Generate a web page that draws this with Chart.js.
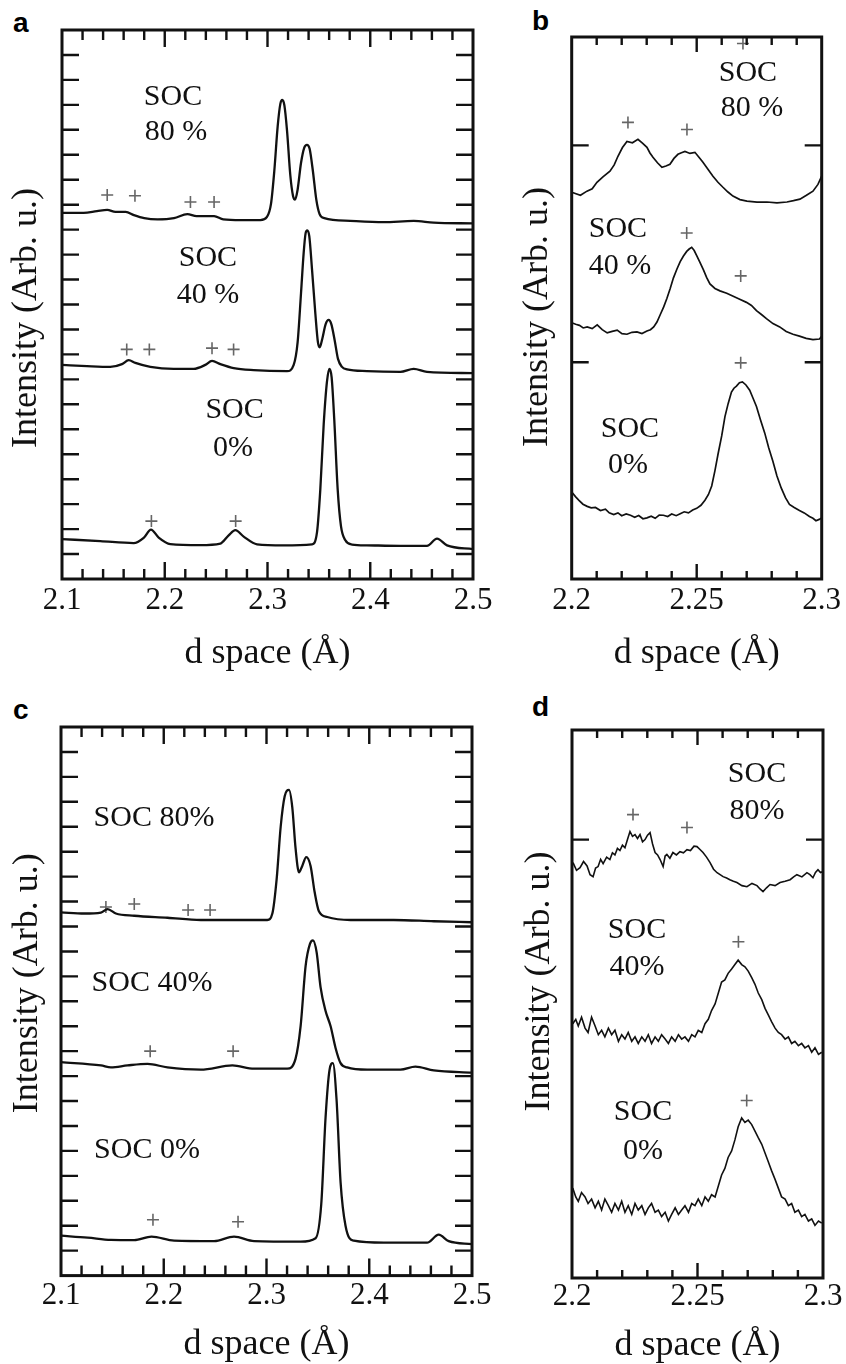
<!DOCTYPE html>
<html>
<head>
<meta charset="utf-8">
<script src="https://cdn.jsdelivr.net/npm/chart.js@4.4.1/dist/chart.umd.min.js"></script>
<style>
html, body { margin: 0; padding: 0; background: #fff; width: 846px; height: 1364px; overflow: hidden; }
.panel { position: absolute; }
.tag { position: absolute; font: bold 28px "Liberation Sans", Arial, sans-serif; line-height: 28px; color: #000; }
</style>
</head>
<body>
<div class="tag" style="left:13px;top:9px">a</div>
<div class="tag" style="left:532px;top:7px">b</div>
<div class="tag" style="left:13px;top:696px">c</div>
<div class="tag" style="left:532px;top:693px">d</div>

<canvas id="chartA" class="panel" width="500" height="680" style="left:0;top:0"></canvas>
<canvas id="chartB" class="panel" width="346" height="680" style="left:500px;top:0"></canvas>
<canvas id="chartC" class="panel" width="500" height="690" style="left:0;top:680px"></canvas>
<canvas id="chartD" class="panel" width="346" height="690" style="left:500px;top:680px"></canvas>

<script>
// ---- panel a : [d space, intensity] ----
const aSoc80 = [[2.1,14.67],[2.121,14.67],[2.134,14.74],[2.144,14.79],[2.152,14.71],[2.162,14.71],[2.17,14.58],[2.18,14.46],[2.193,14.41],[2.209,14.46],[2.222,14.62],[2.231,14.54],[2.248,14.54],[2.257,14.41],[2.274,14.38],[2.293,14.38],[2.2995,14.51],[2.3034,15.03],[2.3066,16.34],[2.3099,18.14],[2.3125,19.04],[2.3144,19.2],[2.3164,18.99],[2.319,17.97],[2.3222,16.18],[2.3248,15.36],[2.3268,15.2],[2.3293,15.6],[2.3326,16.67],[2.3358,17.29],[2.3384,17.4],[2.341,17.24],[2.3442,16.34],[2.3475,15.2],[2.3507,14.62],[2.3553,14.46],[2.3806,14.35],[2.413,14.3],[2.4423,14.35],[2.4617,14.28],[2.5,14.25]];
const aSoc40 = [[2.1,8.58],[2.1243,8.53],[2.147,8.5],[2.1584,8.61],[2.1649,8.77],[2.1714,8.66],[2.186,8.5],[2.2087,8.42],[2.2281,8.42],[2.2395,8.58],[2.246,8.74],[2.2541,8.61],[2.2671,8.45],[2.2865,8.37],[2.319,8.33],[2.3255,8.58],[2.3293,9.48],[2.3326,11.44],[2.3352,13.07],[2.3371,13.86],[2.3387,13.97],[2.3407,13.73],[2.3433,12.42],[2.3466,10.62],[2.3491,9.48],[2.3508,9.28],[2.3534,9.64],[2.3566,10.21],[2.3595,10.38],[2.3621,10.21],[2.3654,9.56],[2.3686,8.82],[2.3725,8.5],[2.3774,8.4],[2.3968,8.33],[2.4293,8.3],[2.4423,8.42],[2.4552,8.3],[2.5,8.25]];
const aSoc0 = [[2.1,1.6],[2.1373,1.52],[2.1697,1.44],[2.1795,1.65],[2.1866,1.98],[2.1941,1.66],[2.2054,1.4],[2.2346,1.36],[2.2541,1.42],[2.2622,1.75],[2.2687,1.96],[2.2768,1.7],[2.2898,1.39],[2.3157,1.35],[2.3433,1.39],[2.3482,1.88],[2.3514,3.59],[2.3547,6.21],[2.3579,7.92],[2.3602,8.42],[2.3624,8.09],[2.365,6.37],[2.3683,3.59],[2.3715,2.12],[2.3758,1.55],[2.3823,1.38],[2.3968,1.35],[2.4293,1.33],[2.4552,1.33],[2.465,1.62],[2.4747,1.35],[2.5,1.2]];
const aPlus80 = [[2.144,15.39],[2.171,15.36],[2.225,15.11],[2.248,15.11]];
const aPlus40 = [[2.163,9.2],[2.185,9.2],[2.246,9.25],[2.267,9.2]];
const aPlus0 = [[2.187,2.32],[2.269,2.32]];
const aLabels = [['SOC',2.208,19.33],['80 %',2.211,17.9],['SOC',2.242,12.87],['40 %',2.242,11.36],['SOC',2.268,6.78],['0%',2.2664,5.26]];

// ---- panel b ----
const bSoc80 = [[2.2,1.784],[2.2035,1.77],[2.2061,1.789],[2.2082,1.8],[2.2101,1.83],[2.2125,1.855],[2.2153,1.881],[2.217,1.91],[2.2185,1.95],[2.2203,1.99],[2.2221,2.018],[2.2243,2.012],[2.2265,2.028],[2.2283,2.01],[2.2301,1.991],[2.2313,1.965],[2.2325,1.945],[2.2343,1.92],[2.2361,1.899],[2.2377,1.905],[2.2393,1.913],[2.2409,1.94],[2.2425,1.959],[2.2439,1.966],[2.2453,1.972],[2.2473,1.963],[2.2493,1.968],[2.2509,1.945],[2.2525,1.922],[2.2545,1.89],[2.2565,1.858],[2.2585,1.83],[2.2605,1.807],[2.2625,1.785],[2.2645,1.766],[2.2673,1.75],[2.2701,1.743],[2.2741,1.738],[2.2781,1.739],[2.2821,1.735],[2.2861,1.739],[2.2887,1.745],[2.2913,1.752],[2.2939,1.77],[2.2965,1.789],[2.2985,1.82],[2.3,1.858]];
const bSoc40 = [[2.2,1.182],[2.2016,1.175],[2.2031,1.17],[2.2046,1.158],[2.2062,1.163],[2.2082,1.155],[2.2102,1.172],[2.2122,1.15],[2.2142,1.135],[2.2162,1.142],[2.2182,1.148],[2.2201,1.132],[2.2221,1.129],[2.2241,1.138],[2.2261,1.14],[2.2281,1.132],[2.2301,1.144],[2.2315,1.15],[2.2328,1.163],[2.2341,1.185],[2.2354,1.219],[2.2368,1.255],[2.2381,1.295],[2.2394,1.34],[2.2407,1.389],[2.2421,1.43],[2.2434,1.464],[2.2447,1.49],[2.246,1.511],[2.247,1.522],[2.248,1.53],[2.249,1.515],[2.25,1.492],[2.2513,1.46],[2.2527,1.426],[2.254,1.39],[2.2553,1.361],[2.2573,1.34],[2.2593,1.329],[2.262,1.318],[2.2646,1.304],[2.2672,1.29],[2.2699,1.276],[2.2719,1.262],[2.2739,1.238],[2.2759,1.22],[2.2779,1.201],[2.2805,1.178],[2.2832,1.163],[2.2858,1.142],[2.2885,1.129],[2.2911,1.12],[2.2938,1.11],[2.2965,1.104],[2.2991,1.107],[2.3,1.12]];
const bSoc0 = [[2.2,0.401],[2.2015,0.38],[2.2029,0.363],[2.2045,0.345],[2.2062,0.335],[2.2078,0.328],[2.2095,0.33],[2.2115,0.316],[2.2135,0.322],[2.215,0.305],[2.2168,0.297],[2.2185,0.305],[2.22,0.292],[2.2218,0.3],[2.2235,0.294],[2.2252,0.285],[2.2268,0.293],[2.2285,0.278],[2.2301,0.282],[2.2318,0.29],[2.2334,0.28],[2.235,0.295],[2.2367,0.294],[2.2384,0.288],[2.24,0.3],[2.2418,0.292],[2.2434,0.301],[2.245,0.31],[2.2467,0.305],[2.2484,0.318],[2.25,0.326],[2.2517,0.34],[2.2533,0.363],[2.2547,0.39],[2.256,0.429],[2.2573,0.5],[2.2586,0.58],[2.26,0.66],[2.2613,0.749],[2.2626,0.81],[2.2639,0.862],[2.2649,0.88],[2.2659,0.89],[2.2671,0.905],[2.2683,0.909],[2.2697,0.895],[2.2712,0.871],[2.2725,0.835],[2.2739,0.796],[2.2755,0.735],[2.2772,0.674],[2.2788,0.605],[2.2805,0.542],[2.2821,0.475],[2.2838,0.42],[2.2855,0.375],[2.2871,0.344],[2.289,0.33],[2.2911,0.316],[2.293,0.305],[2.2951,0.288],[2.2965,0.28],[2.2977,0.269],[2.299,0.275],[2.3,0.282]];
const bPlus80 = [[2.2225,2.106],[2.2461,2.073],[2.2685,2.47]];
const bPlus40 = [[2.246,1.596],[2.2676,1.398]];
const bPlus0 = [[2.2676,0.997]];
const bLabels = [['SOC',2.2705,2.335],['80 %',2.2721,2.174],['SOC',2.2185,1.615],['40 %',2.2193,1.445],['SOC',2.2233,0.693],['0%',2.2225,0.523]];

// ---- panel c ----
const cSoc80 = [[2.1,14.57],[2.1227,14.52],[2.1389,14.56],[2.1453,14.7],[2.1534,14.52],[2.1713,14.43],[2.2036,14.35],[2.236,14.26],[2.2684,14.26],[2.3008,14.26],[2.3057,14.52],[2.3099,15.91],[2.3138,18.0],[2.3177,19.22],[2.3219,19.48],[2.3251,18.78],[2.3283,17.13],[2.3316,16.17],[2.3348,16.43],[2.3387,16.78],[2.3429,16.43],[2.3468,15.39],[2.351,14.61],[2.3591,14.38],[2.3818,14.26],[2.4239,14.26],[2.4628,14.21],[2.5,14.17]];
const cSoc40 = [[2.1,8.56],[2.1389,8.43],[2.1486,8.35],[2.1648,8.43],[2.1842,8.49],[2.2036,8.35],[2.236,8.26],[2.2668,8.43],[2.2879,8.3],[2.3202,8.3],[2.3283,8.7],[2.3332,10.0],[2.3381,12.43],[2.3423,13.3],[2.3452,13.44],[2.3488,12.96],[2.3526,11.57],[2.3575,10.61],[2.3624,10.0],[2.3672,9.13],[2.3721,8.52],[2.3785,8.35],[2.398,8.26],[2.4304,8.26],[2.4449,8.38],[2.4628,8.23],[2.5,8.14]];
const cSoc0 = [[2.1,1.6],[2.1259,1.52],[2.1486,1.43],[2.1713,1.42],[2.1881,1.56],[2.2101,1.4],[2.249,1.38],[2.2684,1.56],[2.2879,1.38],[2.3332,1.36],[2.3478,1.5],[2.3533,2.87],[2.3575,6.35],[2.3614,8.26],[2.3646,8.52],[2.3682,7.04],[2.3721,3.74],[2.3769,2.0],[2.385,1.4],[2.4142,1.32],[2.4563,1.32],[2.4676,1.64],[2.4773,1.38],[2.5,1.26]];
const cPlus80 = [[2.1437,14.78],[2.1713,14.9],[2.2237,14.66],[2.2451,14.66]];
const cPlus40 = [[2.1868,9.0],[2.2675,9.0]];
const cPlus0 = [[2.1895,2.24],[2.2723,2.16]];
const cLabels = [['SOC 80%',2.1905,18.36],['SOC 40%',2.1886,11.72],['SOC 0%',2.1837,5.04]];

// ---- panel d ----
const dSoc80 = [[2.2004,1.895],[2.2018,1.86],[2.2032,1.872],[2.2046,1.9],[2.206,1.88],[2.2072,1.84],[2.2084,1.831],[2.2094,1.87],[2.2104,1.877],[2.2114,1.91],[2.2124,1.89],[2.2138,1.92],[2.2151,1.909],[2.2161,1.94],[2.2171,1.93],[2.2181,1.96],[2.2191,1.95],[2.2201,1.975],[2.2211,1.963],[2.2221,2.0],[2.2231,2.037],[2.2241,2.015],[2.2251,2.023],[2.2261,2.005],[2.2271,2.023],[2.2281,1.99],[2.2291,2.0],[2.2301,2.02],[2.2311,2.032],[2.2321,1.98],[2.2331,1.941],[2.2341,1.93],[2.2351,1.909],[2.2363,1.877],[2.2371,1.925],[2.2378,1.932],[2.239,1.915],[2.2402,1.941],[2.2416,1.93],[2.243,1.945],[2.2444,1.94],[2.2458,1.954],[2.2472,1.95],[2.2486,1.97],[2.2498,1.968],[2.251,1.955],[2.2522,1.941],[2.2536,1.92],[2.255,1.895],[2.2564,1.865],[2.2578,1.849],[2.259,1.84],[2.2602,1.831],[2.2616,1.825],[2.2629,1.817],[2.2643,1.81],[2.2657,1.804],[2.2677,1.79],[2.2697,1.785],[2.2717,1.8],[2.2737,1.79],[2.2749,1.775],[2.2761,1.763],[2.2775,1.78],[2.2789,1.795],[2.2809,1.79],[2.2829,1.804],[2.2849,1.81],[2.2869,1.817],[2.2883,1.83],[2.2896,1.84],[2.2916,1.83],[2.2936,1.849],[2.2948,1.84],[2.296,1.826],[2.297,1.85],[2.298,1.863],[2.299,1.85],[2.3,1.854]];
const dSoc40 = [[2.2003,1.16],[2.2015,1.18],[2.2025,1.15],[2.2038,1.19],[2.2052,1.14],[2.2064,1.12],[2.2078,1.19],[2.2092,1.15],[2.2105,1.11],[2.2118,1.13],[2.2131,1.1],[2.2145,1.14],[2.2158,1.11],[2.2171,1.13],[2.2185,1.08],[2.2198,1.11],[2.2211,1.09],[2.2224,1.12],[2.2238,1.08],[2.2251,1.1],[2.2264,1.07],[2.2278,1.1],[2.2291,1.08],[2.2304,1.11],[2.2317,1.07],[2.2331,1.1],[2.2344,1.08],[2.2357,1.11],[2.2371,1.09],[2.2384,1.07],[2.2397,1.1],[2.2411,1.08],[2.2424,1.11],[2.2437,1.09],[2.245,1.1],[2.2464,1.08],[2.2477,1.11],[2.249,1.1],[2.2503,1.13],[2.2517,1.12],[2.253,1.16],[2.2543,1.18],[2.2556,1.22],[2.257,1.25],[2.2583,1.3],[2.2596,1.35],[2.2609,1.36],[2.2622,1.39],[2.2636,1.41],[2.2649,1.43],[2.2662,1.45],[2.2676,1.43],[2.2689,1.42],[2.2702,1.4],[2.2716,1.37],[2.2729,1.34],[2.2742,1.3],[2.2756,1.27],[2.2769,1.23],[2.2782,1.2],[2.2795,1.17],[2.2809,1.14],[2.2822,1.12],[2.2835,1.11],[2.2849,1.09],[2.2862,1.1],[2.2875,1.07],[2.2888,1.08],[2.2902,1.06],[2.2915,1.07],[2.2928,1.05],[2.2942,1.06],[2.2955,1.03],[2.2968,1.05],[2.2982,1.02],[2.2995,1.03]];
const dSoc0 = [[2.2003,0.41],[2.2015,0.37],[2.2025,0.35],[2.2038,0.39],[2.2052,0.37],[2.2064,0.34],[2.2078,0.36],[2.2092,0.32],[2.2105,0.35],[2.2118,0.31],[2.2131,0.36],[2.2145,0.33],[2.2158,0.3],[2.2171,0.34],[2.2185,0.31],[2.2198,0.35],[2.2211,0.3],[2.2224,0.33],[2.2238,0.29],[2.2251,0.34],[2.2264,0.31],[2.2278,0.33],[2.2291,0.29],[2.2304,0.32],[2.2317,0.34],[2.2331,0.3],[2.2344,0.31],[2.2357,0.28],[2.2371,0.3],[2.2384,0.26],[2.2397,0.29],[2.2411,0.32],[2.2424,0.29],[2.2437,0.31],[2.245,0.33],[2.2464,0.3],[2.2477,0.34],[2.249,0.33],[2.2503,0.36],[2.2517,0.33],[2.253,0.37],[2.2543,0.35],[2.2556,0.38],[2.257,0.37],[2.2583,0.42],[2.2596,0.47],[2.2609,0.5],[2.2622,0.55],[2.2636,0.58],[2.2649,0.63],[2.2662,0.69],[2.2676,0.73],[2.2689,0.71],[2.2702,0.72],[2.2716,0.7],[2.2729,0.67],[2.2742,0.64],[2.2756,0.61],[2.2769,0.57],[2.2782,0.53],[2.2795,0.49],[2.2809,0.45],[2.2822,0.41],[2.2835,0.37],[2.2849,0.36],[2.2862,0.33],[2.2875,0.34],[2.2888,0.3],[2.2902,0.31],[2.2915,0.28],[2.2928,0.29],[2.2942,0.26],[2.2955,0.27],[2.2968,0.24],[2.2982,0.26],[2.2995,0.25]];
const dPlus80 = [[2.2243,2.114],[2.2458,2.055]];
const dPlus40 = [[2.2663,1.534]];
const dPlus0 = [[2.2696,0.81]];
const dLabels = [['SOC',2.2737,2.30],['80%',2.2737,2.128],['SOC',2.2259,1.589],['40%',2.2259,1.42],['SOC',2.2283,0.758],['0%',2.2283,0.58]];

// tick positions
const ticksWide = [];
for (let i = 0; i <= 20; i++) ticksWide.push(+(2.1 + i * 0.02).toFixed(2));
const ticksNarrow = [];
for (let i = 0; i <= 10; i++) ticksNarrow.push(+(2.2 + i * 0.01).toFixed(2));
const yTicksWide = [];
for (let i = 1; i <= 21; i++) yTicksWide.push(i);

const SERIF = "'Liberation Serif', 'Times New Roman', serif";
const NBSP = '\u00a0';
Chart.defaults.font.family = SERIF;
Chart.defaults.color = '#111';

function isMajor(v, step) {
  const r = v / step;
  return Math.abs(r - Math.round(r)) < 1e-6;
}

function buildPanel(id, p) {
  const datasets = p.curves.map(c => ({
    data: c.map(([x, y]) => ({x, y})),
    borderColor: '#111',
    borderWidth: p.lineWidth,
    pointRadius: 0,
    fill: false,
    tension: 0,
    cubicInterpolationMode: p.smooth ? 'monotone' : 'default'
  }));
  p.plus.forEach(set => datasets.push({
    data: set.map(([x, y]) => ({x, y})),
    showLine: false,
    pointStyle: 'cross',
    pointRadius: 6,
    pointBorderColor: '#666',
    pointBackgroundColor: '#666',
    pointBorderWidth: 1.6,
    borderColor: '#666'
  }));

  // inward ticks on all four sides + frame
  const framePlugin = {
    id: 'frame',
    afterDatasetsDraw(chart) {
      const {ctx, chartArea: {left, right, top, bottom}} = chart;
      const xs = chart.scales.x, ys = chart.scales.y;
      ctx.save();
      ctx.strokeStyle = '#111';
      ctx.lineWidth = 2.4;
      ctx.beginPath();
      xs.ticks.forEach(t => {
        if (t.value <= xs.min + 1e-9 || t.value >= xs.max - 1e-9) return;
        const px = xs.getPixelForValue(t.value);
        const len = isMajor(t.value, p.xMajor) ? p.majorLen : p.minorLen;
        ctx.moveTo(px, bottom); ctx.lineTo(px, bottom - len);
        ctx.moveTo(px, top); ctx.lineTo(px, top + len);
      });
      ys.ticks.forEach(t => {
        const py = ys.getPixelForValue(t.value);
        ctx.moveTo(left, py); ctx.lineTo(left + 17, py);
        ctx.moveTo(right, py); ctx.lineTo(right - 17, py);
      });
      ctx.stroke();
      ctx.lineWidth = 3;
      ctx.strokeRect(left, top, right - left, bottom - top);
      ctx.restore();
    }
  };

  const labelPlugin = {
    id: 'socLabels',
    afterDatasetsDraw(chart) {
      const {ctx} = chart;
      const xs = chart.scales.x, ys = chart.scales.y;
      ctx.save();
      ctx.fillStyle = '#111';
      ctx.font = '30px ' + SERIF;
      ctx.textAlign = 'center';
      ctx.textBaseline = 'middle';
      p.labels.forEach(([text, x, y]) => {
        ctx.fillText(text, xs.getPixelForValue(x), ys.getPixelForValue(y));
      });
      ctx.restore();
    }
  };

  new Chart(document.getElementById(id), {
    type: 'line',
    data: {datasets},
    options: {
      responsive: false,
      animation: false,
      events: [],
      layout: {padding: p.padding},
      plugins: {legend: {display: false}, tooltip: {enabled: false}},
      scales: {
        x: {
          type: 'linear',
          min: p.xMin,
          max: p.xMax,
          afterBuildTicks: s => { s.ticks = p.xTicks.map(v => ({value: v})); },
          grid: {display: false, drawTicks: false},
          border: {display: false},
          ticks: {
            autoSkip: false,
            maxRotation: 0,
            padding: p.xTickPad,
            color: '#111',
            font: {family: SERIF, size: 31},
            callback: v => isMajor(v, p.xMajor) ? String(+v.toFixed(2)) : ''
          },
          title: {
            display: true,
            text: 'd space (Å)',
            color: '#111',
            font: {family: SERIF, size: 36},
            padding: {top: p.xTitlePad, bottom: 0}
          }
        },
        y: {
          type: 'linear',
          min: 0,
          max: p.yMax,
          afterBuildTicks: s => { s.ticks = p.yTicks.map(v => ({value: v})); },
          grid: {display: false, drawTicks: false},
          border: {display: false},
          ticks: {display: false},
          title: {
            display: true,
            text: p.yTitle,
            color: '#111',
            font: {family: SERIF, size: 36},
            padding: p.yTitlePad
          }
        }
      }
    },
    plugins: [framePlugin, labelPlugin]
  });
}

const yTitle = 'Intensity (Arb. u.)';

buildPanel('chartA', {
  curves: [aSoc80, aSoc40, aSoc0], plus: [aPlus80, aPlus40, aPlus0], labels: aLabels,
  lineWidth: 2.3, smooth: true,
  xMin: 2.1, xMax: 2.5, xTicks: ticksWide, xMajor: 0.1, minorLen: 10, majorLen: 17,
  yMax: 22, yTicks: yTicksWide,
  padding: {left: 0, top: 30, right: 27, bottom: 4.4},
  xTickPad: 3, xTitlePad: 10.2,
  yTitle: yTitle + NBSP.repeat(3), yTitlePad: {top: 5.4, bottom: 13.4}
});

buildPanel('chartB', {
  curves: [bSoc80, bSoc40, bSoc0], plus: [bPlus80, bPlus40, bPlus0], labels: bLabels,
  lineWidth: 1.7, smooth: false,
  xMin: 2.2, xMax: 2.3, xTicks: ticksNarrow, xMajor: 0.05, minorLen: 8, majorLen: 15,
  yMax: 2.5, yTicks: [1, 2],
  padding: {left: 0, top: 37, right: 24.3, bottom: 4.4},
  xTickPad: 3, xTitlePad: 10.2,
  yTitle: yTitle + NBSP.repeat(2), yTitlePad: {top: 15.9, bottom: 12.6}
});

buildPanel('chartC', {
  curves: [cSoc80, cSoc40, cSoc0], plus: [cPlus80, cPlus40, cPlus0], labels: cLabels,
  lineWidth: 2.3, smooth: true,
  xMin: 2.1, xMax: 2.5, xTicks: ticksWide, xMajor: 0.1, minorLen: 10, majorLen: 17,
  yMax: 22, yTicks: yTicksWide,
  padding: {left: 0, top: 47, right: 28, bottom: 3.4},
  xTickPad: 1.4, xTitlePad: 7.8,
  yTitle: NBSP.repeat(4) + yTitle, yTitlePad: {top: 6.4, bottom: 11.4}
});

buildPanel('chartD', {
  curves: [dSoc80, dSoc40, dSoc0], plus: [dPlus80, dPlus40, dPlus0], labels: dLabels,
  lineWidth: 1.6, smooth: false,
  xMin: 2.2, xMax: 2.3, xTicks: ticksNarrow, xMajor: 0.05, minorLen: 8, majorLen: 15,
  yMax: 2.5, yTicks: [2],
  padding: {left: 0, top: 50, right: 23, bottom: 2.4},
  xTickPad: 0, xTitlePad: 9.2,
  yTitle: NBSP.repeat(5) + yTitle, yTitlePad: {top: 18.4, bottom: 10.4}
});
</script>
</body>
</html>
